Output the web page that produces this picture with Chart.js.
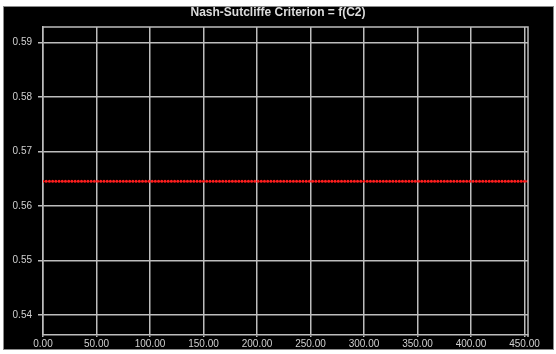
<!DOCTYPE html>
<html>
<head>
<meta charset="utf-8">
<script src="https://cdn.jsdelivr.net/npm/chart.js@4/dist/chart.umd.min.js"></script>
<style>
  html, body { margin: 0; padding: 0; background: #ffffff; }
  #wrap { width: 556px; height: 354px; position: relative; }
</style>
</head>
<body>
<div id="wrap"><canvas id="c" width="556" height="354"></canvas></div>
<script>
// C2 parameter values that were evaluated
const c2Values = [
  0, 3, 6, 9, 12, 15, 18, 21, 24, 27, 30, 33, 36, 39, 42, 45, 48, 51, 54,
  57, 60, 63, 66, 69, 72, 75, 78, 81, 84, 87, 90, 93, 96, 99, 102, 105, 108, 111,
  114, 117, 120, 123, 126, 129, 132, 135, 138, 141, 144, 147, 150, 153, 156, 159, 162, 165, 168,
  171, 174, 177, 180, 183, 186, 189, 192, 195, 198, 201, 204, 207, 210, 213, 216, 219, 222, 225,
  228, 231, 234, 237, 240, 243, 246, 249, 252, 255, 258, 261, 264, 267, 270, 273, 276, 279, 282,
  285, 288, 291, 294, 297, 300, 303, 306, 309, 312, 315, 318, 321, 324, 327, 330, 333, 336, 339,
  342, 345, 348, 351, 354, 357, 360, 363, 366, 369, 372, 375, 378, 381, 384, 387, 390, 393, 396,
  399, 402, 405, 408, 411, 414, 417, 420, 423, 426, 429, 432, 435, 438, 441, 444, 447, 450, 453
];

// Nash-Sutcliffe criterion obtained for each C2 value
const nashValues = [
  0.5645, 0.5645, 0.5645, 0.5645, 0.5645, 0.5645, 0.5645, 0.5645, 0.5645, 0.5645, 0.5645, 0.5645, 0.5645, 0.5645, 0.5645, 0.5645, 0.5645, 0.5645, 0.5645,
  0.5645, 0.5645, 0.5645, 0.5645, 0.5645, 0.5645, 0.5645, 0.5645, 0.5645, 0.5645, 0.5645, 0.5645, 0.5645, 0.5645, 0.5645, 0.5645, 0.5645, 0.5645, 0.5645,
  0.5645, 0.5645, 0.5645, 0.5645, 0.5645, 0.5645, 0.5645, 0.5645, 0.5645, 0.5645, 0.5645, 0.5645, 0.5645, 0.5645, 0.5645, 0.5645, 0.5645, 0.5645, 0.5645,
  0.5645, 0.5645, 0.5645, 0.5645, 0.5645, 0.5645, 0.5645, 0.5645, 0.5645, 0.5645, 0.5645, 0.5645, 0.5645, 0.5645, 0.5645, 0.5645, 0.5645, 0.5645, 0.5645,
  0.5645, 0.5645, 0.5645, 0.5645, 0.5645, 0.5645, 0.5645, 0.5645, 0.5645, 0.5645, 0.5645, 0.5645, 0.5645, 0.5645, 0.5645, 0.5645, 0.5645, 0.5645, 0.5645,
  0.5645, 0.5645, 0.5645, 0.5645, 0.5645, 0.5645, 0.5645, 0.5645, 0.5645, 0.5645, 0.5645, 0.5645, 0.5645, 0.5645, 0.5645, 0.5645, 0.5645, 0.5645, 0.5645,
  0.5645, 0.5645, 0.5645, 0.5645, 0.5645, 0.5645, 0.5645, 0.5645, 0.5645, 0.5645, 0.5645, 0.5645, 0.5645, 0.5645, 0.5645, 0.5645, 0.5645, 0.5645, 0.5645,
  0.5645, 0.5645, 0.5645, 0.5645, 0.5645, 0.5645, 0.5645, 0.5645, 0.5645, 0.5645, 0.5645, 0.5645, 0.5645, 0.5645, 0.5645, 0.5645, 0.5645, 0.5645, 0.5645
];

const xTicks = [0, 50, 100, 150, 200, 250, 300, 350, 400, 450];
const yTicks = [0.54, 0.55, 0.56, 0.57, 0.58, 0.59];
const xRange = [0, 453.3];
const yRange = [0.5363, 0.5928];
const chartTitle = 'Nash-Sutcliffe Criterion = f(C2)';

const points = c2Values.map((x, i) => ({ x: x, y: nashValues[i] }));

const GRID = '#bdbdbd';
const LABEL = '#d0d0d0';
const FONT = 'Liberation Sans, Arial, sans-serif';

// dark panel behind the whole chart, plus the title
const panelPlugin = {
  id: 'panel',
  beforeDraw(chart) {
    const ctx = chart.ctx;
    ctx.save();
    ctx.fillStyle = '#ffffff';
    ctx.fillRect(0, 0, chart.width, chart.height);
    ctx.fillStyle = '#000000';
    ctx.fillRect(4, 7, 549, 342);
    ctx.strokeStyle = '#8a8a8a';
    ctx.lineWidth = 1;
    ctx.strokeRect(3.5, 6.5, 550, 343);
    ctx.fillStyle = '#dcdcdc';
    ctx.font = 'bold 12px ' + FONT;
    ctx.textAlign = 'center';
    ctx.textBaseline = 'middle';
    ctx.fillText(chartTitle, chart.width / 2, 13);
    ctx.restore();
  },
  afterDatasetsDraw(chart) {
    const a = chart.chartArea;
    const ctx = chart.ctx;
    ctx.save();
    ctx.strokeStyle = GRID;
    ctx.lineWidth = 1.5;
    ctx.beginPath();
    ctx.moveTo(a.left, a.top);
    ctx.lineTo(a.right, a.top);
    ctx.lineTo(a.right, a.bottom + 2);
    ctx.stroke();
    ctx.restore();
  }
};

new Chart(document.getElementById('c'), {
  type: 'scatter',
  data: {
    datasets: [{
      data: points,
      showLine: false,
      pointRadius: 1.5,
      pointBorderWidth: 0,
      pointBackgroundColor: '#ff1e1e',
      pointHoverRadius: 1.5
    }]
  },
  options: {
    responsive: false,
    animation: false,
    events: [],
    layout: { padding: { left: 0, top: 27, right: 28, bottom: 0 } },
    plugins: {
      legend: { display: false },
      title: { display: false },
      tooltip: { enabled: false }
    },
    scales: {
      x: {
        type: 'linear',
        min: xRange[0],
        max: xRange[1],
        afterBuildTicks(scale) { scale.ticks = xTicks.map(v => ({ value: v })); },
        afterFit(scale) { scale.height = 19; },
        grid: { color: GRID, lineWidth: 1.5, tickLength: 2, drawTicks: true },
        border: { color: GRID, width: 1.5 },
        ticks: {
          color: LABEL,
          font: { family: FONT, size: 10 },
          padding: 1,
          maxRotation: 0,
          autoSkip: false,
          callback: v => Number(v).toFixed(2)
        }
      },
      y: {
        type: 'linear',
        min: yRange[0],
        max: yRange[1],
        afterBuildTicks(scale) { scale.ticks = yTicks.map(v => ({ value: v })); },
        afterFit(scale) { scale.width = 43; },
        grid: { color: GRID, lineWidth: 1.5, tickLength: 5 },
        border: { color: GRID, width: 1.5 },
        ticks: {
          color: LABEL,
          font: { family: FONT, size: 10 },
          padding: 6,
          autoSkip: false,
          callback: v => Number(v).toFixed(2)
        }
      }
    }
  },
  plugins: [panelPlugin]
});
</script>
</body>
</html>
